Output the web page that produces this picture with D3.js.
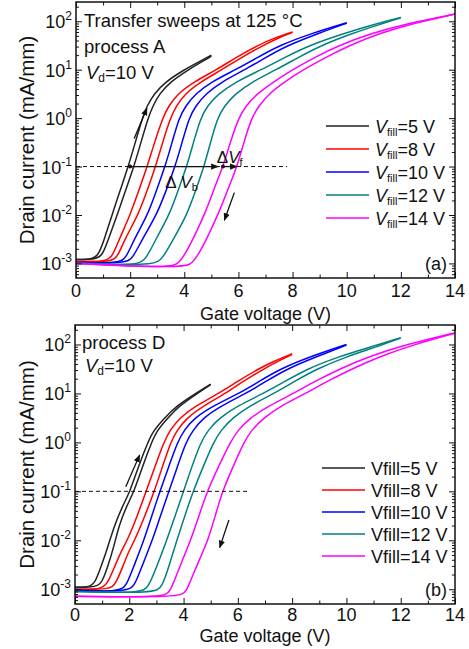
<!DOCTYPE html>
<html><head><meta charset="utf-8">
<script src="https://cdn.jsdelivr.net/npm/d3@7"></script>
<style>body{margin:0;background:#fff} svg{display:block} text{font-family:'Liberation Sans',Arial,sans-serif;fill:#111}</style>
</head><body><svg id="c" width="469" height="649"></svg>
<script>
// ---------- data ----------
const vfill = [5, 8, 10, 12, 14];
const colors = ["#222222", "#ff0000", "#0000ff", "#008080", "#ff00ff"];
const xTicks = [0, 2, 4, 6, 8, 10, 12, 14];
const yDecades = [1e-3, 1e-2, 1e-1, 1e0, 1e1, 1e2];
const yExp = ["-3", "-2", "-1", "0", "1", "2"];

// process A (top panel): [gate voltage V, drain current mA/mm], forward (f) / backward (b)
const a5f = [[0,1.2e-3],[0.65,1.2e-3],[0.85,1.6e-3],[1.05,3.2e-3],[1.33,0.01],[1.63,0.032],[1.93,0.1],[2.19,0.316],[2.45,1],[2.62,1.78],[2.88,3.16],[3.3,5.62],[4.0,10],[4.5,14.1],[5.0,20]];
const a5b = [[0,1.2e-3],[0.8,1.2e-3],[1.0,1.6e-3],[1.2,3.2e-3],[1.52,0.01],[1.83,0.032],[2.14,0.1],[2.4,0.316],[2.66,1],[2.84,1.78],[3.08,3.16],[3.48,5.62],[4.15,10],[4.6,14.1],[5.0,19]];
const a8f = [[0,1.1e-3],[1.1,1.07e-3],[1.35,1.4e-3],[1.6,3.2e-3],[2.0,0.01],[2.32,0.032],[2.63,0.1],[2.9,0.316],[3.2,1],[3.42,1.78],[3.75,3.16],[4.35,5.62],[5.2,10],[5.9,17.8],[6.7,31.6],[7.3,44.7],[8.0,60.3]];
const a8b = [[0,1.1e-3],[1.3,1.07e-3],[1.55,1.4e-3],[1.8,3.2e-3],[2.3,0.01],[2.63,0.032],[2.94,0.1],[3.2,0.316],[3.48,1],[3.7,1.78],[4.02,3.16],[4.6,5.62],[5.4,10],[6.1,17.8],[6.9,31.6],[7.45,44.7],[8.0,58.9]];
const a10f = [[0,1.05e-3],[1.6,1.0e-3],[1.85,1.3e-3],[2.15,3.2e-3],[2.65,0.01],[2.97,0.032],[3.29,0.1],[3.55,0.316],[3.8,1],[4.05,1.78],[4.4,3.16],[5.0,5.62],[5.9,10],[6.7,17.8],[7.5,31.6],[8.7,56.2],[10,93.3]];
const a10b = [[0,1.05e-3],[1.85,1.0e-3],[2.1,1.3e-3],[2.45,3.2e-3],[2.98,0.01],[3.33,0.032],[3.66,0.1],[3.92,0.316],[4.17,1],[4.42,1.78],[4.78,3.16],[5.38,5.62],[6.25,10],[7.0,17.8],[7.8,31.6],[8.95,56.2],[10,91.2]];
const a12f = [[0,1.02e-3],[1.2,9.6e-4],[2.3,9.3e-4],[2.6,1.26e-3],[2.95,3.2e-3],[3.45,0.01],[3.77,0.032],[4.09,0.1],[4.34,0.316],[4.6,1],[4.85,1.78],[5.25,3.16],[5.9,5.62],[6.85,10],[7.7,17.8],[8.6,31.6],[9.9,56.2],[11.1,89.1],[12,120]];
const a12b = [[0,1.02e-3],[1.2,9.6e-4],[2.9,9.3e-4],[3.2,1.26e-3],[3.6,3.2e-3],[4.1,0.01],[4.42,0.032],[4.73,0.1],[4.97,0.316],[5.22,1],[5.48,1.78],[5.88,3.16],[6.5,5.62],[7.4,10],[8.2,17.8],[9.05,31.6],[10.2,56.2],[11.3,89.1],[12,117.5]];
const a14f = [[0,1.0e-3],[1.5,9e-4],[3.5,8.3e-4],[3.8,1.0e-3],[4.1,1.8e-3],[4.45,4.5e-3],[4.8,0.012],[5.1,0.035],[5.43,0.1],[5.7,0.316],[6.0,1],[6.27,1.78],[6.68,3.16],[7.3,5.62],[8.0,10],[8.8,17.8],[9.7,31.6],[10.9,56.2],[12.2,89.1],[14,141]];
const a14b = [[0,1.0e-3],[1.5,9e-4],[4.0,8.3e-4],[4.3,1.0e-3],[4.6,1.8e-3],[4.95,4.5e-3],[5.3,0.012],[5.62,0.035],[5.95,0.1],[6.2,0.316],[6.48,1],[6.75,1.78],[7.12,3.16],[7.7,5.62],[8.4,10],[9.2,17.8],[10.1,31.6],[11.2,56.2],[12.4,89.1],[14,141]];

// process D (bottom panel)
const d5f = [[0,1.1e-3],[0.55,1.1e-3],[0.75,1.4e-3],[0.95,2.8e-3],[1.2,7e-3],[1.45,0.02],[1.75,0.05],[2.03,0.1],[2.33,0.316],[2.68,1],[2.9,1.78],[3.3,3.16],[3.75,5.62],[4.45,10],[5.0,15.5]];
const d5b = [[0,1.1e-3],[0.8,1.1e-3],[1.0,1.4e-3],[1.2,2.8e-3],[1.42,7e-3],[1.62,0.02],[1.9,0.05],[2.18,0.1],[2.48,0.316],[2.82,1],[3.03,1.78],[3.42,3.16],[3.85,5.62],[4.5,10],[5.0,15.1]];
const d8f = [[0,1.0e-3],[0.95,9.8e-4],[1.2,1.3e-3],[1.45,2.8e-3],[1.7,6e-3],[1.93,0.01],[2.3,0.032],[2.62,0.1],[2.94,0.316],[3.27,1],[3.5,1.78],[3.85,3.16],[4.45,5.62],[5.3,10],[6.0,17.8],[6.75,31.6],[7.3,44.7],[8,64.6]];
const d8b = [[0,1.0e-3],[1.3,9.8e-4],[1.5,1.3e-3],[1.75,2.8e-3],[1.98,6e-3],[2.2,0.01],[2.58,0.032],[2.92,0.1],[3.22,0.316],[3.52,1],[3.76,1.78],[4.12,3.16],[4.75,5.62],[5.55,10],[6.2,17.8],[6.95,31.6],[7.45,44.7],[8,63]];
const d10f = [[0,9.5e-4],[1.65,8.9e-4],[1.9,1.2e-3],[2.15,2.8e-3],[2.54,0.01],[2.83,0.032],[3.13,0.1],[3.45,0.316],[3.77,1],[4.02,1.78],[4.4,3.16],[5.1,5.62],[6.05,10],[6.8,17.8],[7.55,31.6],[8.65,56.2],[10,100]];
const d10b = [[0,9.5e-4],[1.95,8.9e-4],[2.2,1.2e-3],[2.45,2.8e-3],[2.85,0.01],[3.15,0.032],[3.46,0.1],[3.77,0.316],[4.08,1],[4.35,1.78],[4.72,3.16],[5.4,5.62],[6.3,10],[7.05,17.8],[7.8,31.6],[8.9,56.2],[10,97.7]];
const d12f = [[0,9e-4],[2.45,8.3e-4],[2.7,1.1e-3],[3.0,2.8e-3],[3.38,0.01],[3.69,0.032],[4.0,0.1],[4.3,0.316],[4.63,1],[4.9,1.78],[5.32,3.16],[6.0,5.62],[6.95,10],[7.75,17.8],[8.55,31.6],[9.7,56.2],[10.9,89.1],[12,138]];
const d12b = [[0,9e-4],[2.95,8.3e-4],[3.2,1.1e-3],[3.45,2.8e-3],[3.75,0.01],[4.05,0.032],[4.35,0.1],[4.72,0.316],[5.1,1],[5.38,1.78],[5.8,3.16],[6.45,5.62],[7.33,10],[8.1,17.8],[8.9,31.6],[10.0,56.2],[11.1,89.1],[12,135]];
const d14f = [[0,7.2e-4],[3.3,6.8e-4],[3.5,9e-4],[3.75,2.0e-3],[4.0,4.5e-3],[4.26,0.01],[4.57,0.032],[4.87,0.1],[5.28,0.316],[5.72,1],[6.0,1.78],[6.45,3.16],[7.15,5.62],[8.05,10],[8.85,17.8],[9.75,31.6],[10.8,56.2],[12.2,100],[14,174]];
const d14b = [[0,7.2e-4],[3.9,6.8e-4],[4.1,9e-4],[4.35,2.0e-3],[4.62,4.5e-3],[4.9,0.01],[5.17,0.032],[5.43,0.1],[5.82,0.316],[6.22,1],[6.5,1.78],[6.95,3.16],[7.6,5.62],[8.5,10],[9.3,17.8],[10.2,31.6],[11.2,56.2],[12.5,100],[14,170]];

const seriesA = [[a5f,a5b],[a8f,a8b],[a10f,a10b],[a12f,a12b],[a14f,a14b]];
const seriesD = [[d5f,d5b],[d8f,d8b],[d10f,d10b],[d12f,d12b],[d14f,d14b]];

// ---------- drawing ----------
const svg = d3.select("#c");
const defs = svg.append("defs");
defs.append("marker").attr("id","ah").attr("viewBox","0 0 10 10").attr("refX",9).attr("refY",5)
  .attr("markerWidth",6).attr("markerHeight",6).attr("orient","auto-start-reverse")
  .append("path").attr("d","M0,1 L10,5 L0,9 Z").attr("fill","#111");

function panel(cfg){
  const x = d3.scaleLinear().domain([0,14]).range([cfg.x0,cfg.x1]);
  const y = d3.scaleLog().domain([5e-4,250]).range([cfg.y1,cfg.y0]);
  const g = svg.append("g");

  // curves
  const line = d3.line().x(d=>x(d[0])).y(d=>y(d[1])).curve(d3.curveBasis);
  cfg.series.forEach((pair,i)=>{
    pair.forEach(s=>{
      g.append("path").attr("d",line(s)).attr("fill","none")
        .attr("stroke",colors[i]).attr("stroke-width",1.5);
    });
  });

  // axes with inward ticks
  const minorX = d3.range(1,14,2);
  const minorY = [];
  for (let e=-4; e<=2; e++) for (let m=2; m<=9; m++){ const v=m*Math.pow(10,e); if(v>5e-4 && v<250) minorY.push(v); }
  const ax = (gen, tr)=>g.append("g").attr("transform",tr).call(gen).call(s=>{s.select(".domain").remove(); s.selectAll("text").remove(); s.selectAll("line").attr("stroke","#111").attr("stroke-width",1);});
  ax(d3.axisBottom(x).tickValues(xTicks).tickSize(-6), `translate(0,${cfg.y1})`);
  ax(d3.axisBottom(x).tickValues(minorX).tickSize(-3.5), `translate(0,${cfg.y1})`);
  ax(d3.axisTop(x).tickValues(xTicks).tickSize(-6), `translate(0,${cfg.y0})`);
  ax(d3.axisTop(x).tickValues(minorX).tickSize(-3.5), `translate(0,${cfg.y0})`);
  ax(d3.axisLeft(y).tickValues(yDecades).tickSize(-6), `translate(${cfg.x0},0)`);
  ax(d3.axisLeft(y).tickValues(minorY).tickSize(-3), `translate(${cfg.x0},0)`);
  ax(d3.axisRight(y).tickValues(yDecades).tickSize(-6), `translate(${cfg.x1},0)`);
  ax(d3.axisRight(y).tickValues(minorY).tickSize(-3), `translate(${cfg.x1},0)`);

  g.append("rect").attr("x",cfg.x0).attr("y",cfg.y0).attr("width",cfg.x1-cfg.x0).attr("height",cfg.y1-cfg.y0)
    .attr("fill","none").attr("stroke","#111").attr("stroke-width",1.5);

  // tick labels
  xTicks.forEach(v=>g.append("text").attr("x",x(v)).attr("y",cfg.y1+cfg.tickDy).attr("text-anchor","middle")
    .attr("font-size",18).text(v));
  yDecades.forEach((v,i)=>{
    const t = g.append("text").attr("x",cfg.x0-4).attr("y",y(v)+7).attr("text-anchor","end").attr("font-size",18);
    t.append("tspan").text("10");
    t.append("tspan").attr("font-size",12).attr("dy",-8).text(yExp[i]);
  });
  g.append("text").attr("x",(cfg.x0+cfg.x1)/2).attr("y",cfg.xTitleY).attr("text-anchor","middle")
    .attr("font-size",18).text("Gate voltage (V)");
  g.append("text").attr("transform",`translate(34,${(cfg.y0+cfg.y1)/2}) rotate(-90)`).attr("text-anchor","middle")
    .attr("font-size",20.5).text("Drain current (mA/mm)");

  // dashed 0.1 mA/mm line
  g.append("line").attr("x1",x(0)).attr("x2",x(cfg.dashEnd)).attr("y1",y(0.1)).attr("y2",y(0.1))
    .attr("stroke","#111").attr("stroke-width",1).attr("stroke-dasharray","4,3");

  // sweep arrows
  cfg.arrows.forEach(a=>g.append("line").attr("x1",x(a[0])).attr("y1",y(a[1])).attr("x2",x(a[2])).attr("y2",y(a[3]))
    .attr("stroke","#111").attr("stroke-width",1.3).attr("marker-end","url(#ah)"));

  // legend
  cfg.legendY.forEach((ly,i)=>{
    g.append("line").attr("x1",cfg.legX).attr("x2",cfg.legX+43).attr("y1",ly).attr("y2",ly)
      .attr("stroke",colors[i]).attr("stroke-width",1.5);
    const t = g.append("text").attr("x",cfg.legX+49).attr("y",ly+6.5).attr("font-size",18);
    if (cfg.italicLegend){
      t.append("tspan").attr("font-style","italic").text("V");
      t.append("tspan").attr("font-size",11).attr("dy",3).text("fill");
      t.append("tspan").attr("dy",-3).text("="+vfill[i]+" V");
    } else {
      t.text("Vfill="+vfill[i]+" V");
    }
  });
  g.append("text").attr("x",cfg.x1-8).attr("y",cfg.y1-8).attr("text-anchor","end").attr("font-size",18).text(cfg.tag);

  // Vd label
  const vd = g.append("text").attr("x",cfg.vdX).attr("y",cfg.vdY).attr("font-size",18.5);
  vd.append("tspan").attr("font-style","italic").text("V");
  vd.append("tspan").attr("font-size",12).attr("dy",3).text("d");
  vd.append("tspan").attr("dy",-3).text("=10 V");
  cfg.texts.forEach(t=>g.append("text").attr("x",t[0]).attr("y",t[1]).attr("font-size",18.5).text(t[2]));
  return {x,y,g};
}

const A = panel({x0:76,x1:455,y0:2,y1:278,series:seriesA,dashEnd:7.8,xTitleY:320,tickDy:19,
  arrows:[[2.15,0.38,2.62,1.6],[5.85,0.029,5.48,0.0078]],
  legendY:[126,149,172,195,218],legX:326,italicLegend:true,tag:"(a)",
  vdX:86,vdY:79,texts:[[84,27,"Transfer sweeps at 125 \u00B0C"],[84,53,"process A"]]});

// delta V annotation (panel a)
{
  const {x,y,g} = A;
  const yy = y(0.1);
  g.append("line").attr("x1",x(2.0)).attr("x2",x(5.25)).attr("y1",yy).attr("y2",yy)
    .attr("stroke","#111").attr("stroke-width",1.3).attr("marker-end","url(#ah)");
  g.append("line").attr("x1",x(5.43)).attr("x2",x(5.95)).attr("y1",yy).attr("y2",yy)
    .attr("stroke","#111").attr("stroke-width",1.3).attr("marker-end","url(#ah)");
  [2.0,5.43].forEach(v=>g.append("circle").attr("cx",x(v)).attr("cy",yy).attr("r",2).attr("fill","#111"));
  const tb = g.append("text").attr("x",x(3.3)).attr("y",yy+21).attr("font-size",17);
  tb.append("tspan").text("\u0394 ");
  tb.append("tspan").attr("font-style","italic").text("V");
  tb.append("tspan").attr("font-size",11).attr("dy",3).text("b");
  const tf = g.append("text").attr("x",x(5.2)).attr("y",yy-4).attr("font-size",17);
  tf.append("tspan").text("\u0394");
  tf.append("tspan").attr("font-style","italic").text("V");
  tf.append("tspan").attr("font-size",11).attr("dy",3).text("f");
}

panel({x0:75,x1:455,y0:325,y1:604,series:seriesD,dashEnd:6.35,xTitleY:642,tickDy:17,
  arrows:[[1.87,0.124,2.38,0.55],[5.67,0.026,5.33,0.0071]],
  legendY:[468,490,512,534,556],legX:322,italicLegend:false,tag:"(b)",
  vdX:85,vdY:372,texts:[[82,349,"process D"]]});
</script></body></html>
